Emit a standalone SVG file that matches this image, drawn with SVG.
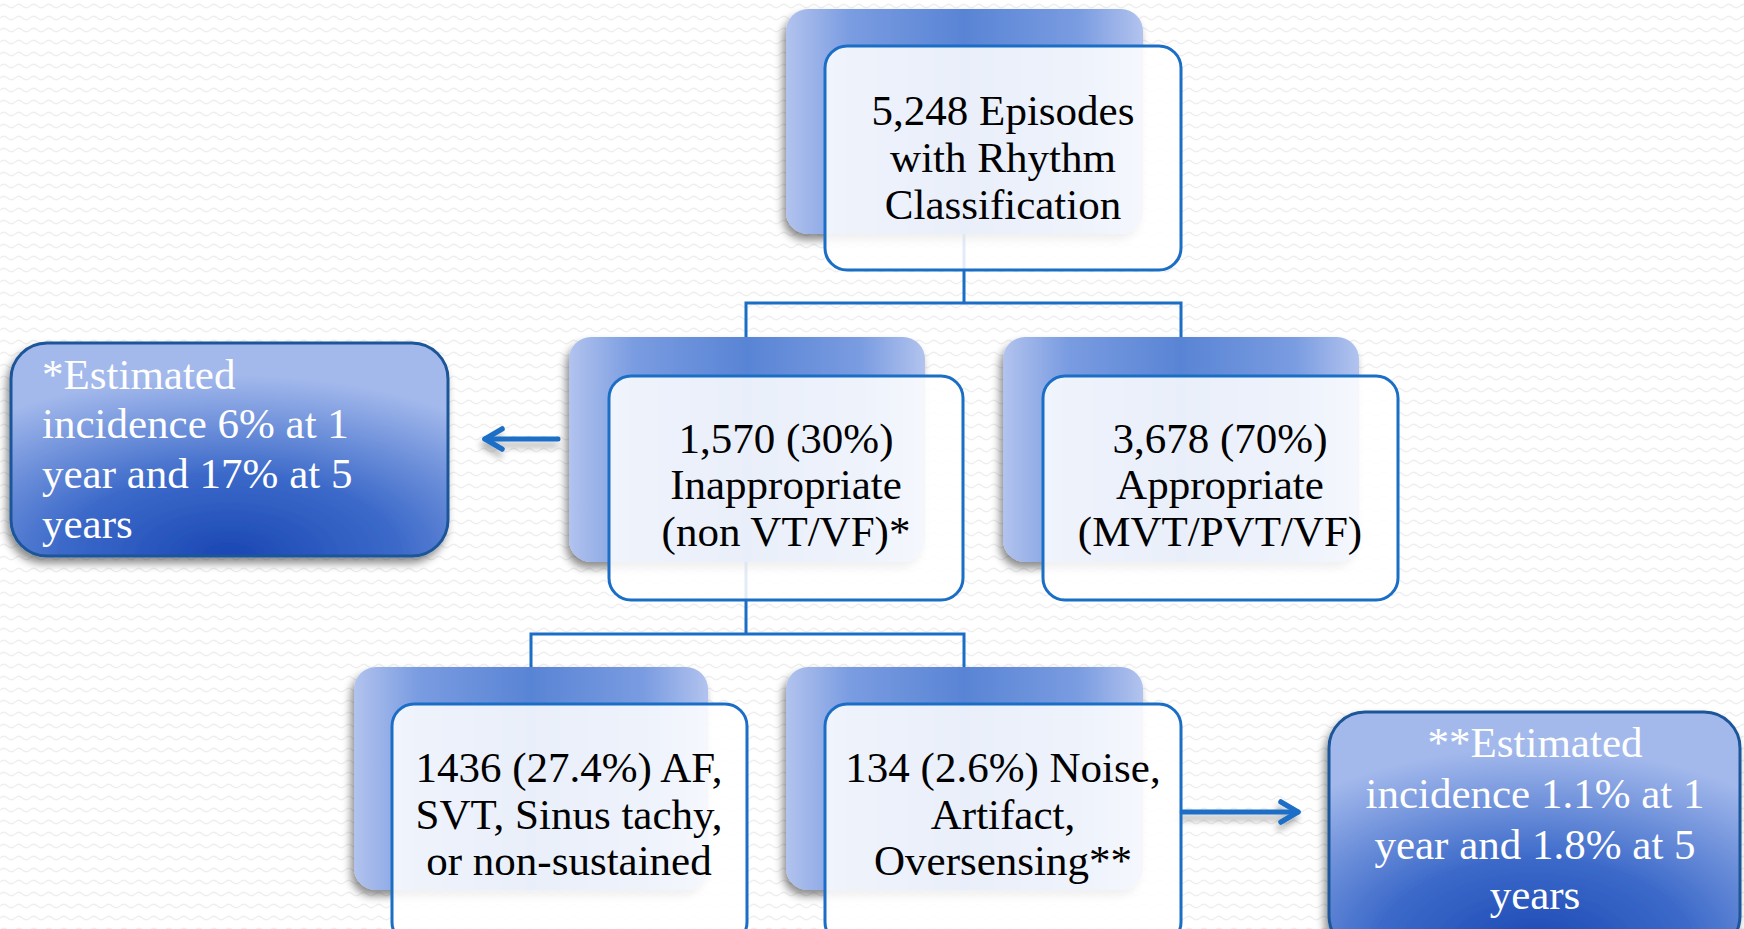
<svg xmlns="http://www.w3.org/2000/svg" width="1744" height="929" viewBox="0 0 1744 929">
  <defs>
    <pattern id="bgwave" width="15" height="12" patternUnits="userSpaceOnUse">
      <path d="M0 6 Q3.75 2.5 7.5 6 T15 6" fill="none" stroke="#eeeeee" stroke-width="1.2"/>
    </pattern>
    <linearGradient id="backGrad" x1="0" y1="0" x2="1" y2="0">
      <stop offset="0" stop-color="#b2c3ee"/>
      <stop offset="0.18" stop-color="#7a9ce1"/>
      <stop offset="0.5" stop-color="#5984d5"/>
      <stop offset="0.82" stop-color="#7a9ce1"/>
      <stop offset="1" stop-color="#b2c3ee"/>
    </linearGradient>
    <radialGradient id="noteGrad" cx="0.5" cy="1" r="0.85" fx="0.5" fy="1">
      <stop offset="0" stop-color="#1a47b3"/>
      <stop offset="0.45" stop-color="#3b69c9"/>
      <stop offset="1" stop-color="#a3b9ec"/>
    </radialGradient>
    <filter id="shadow" x="-10%" y="-10%" width="120%" height="130%">
      <feDropShadow dx="-3" dy="6" stdDeviation="4" flood-color="#000" flood-opacity="0.45"/>
    </filter>
    <filter id="ashadow" filterUnits="userSpaceOnUse" x="0" y="0" width="1744" height="929">
      <feDropShadow dx="-2" dy="6" stdDeviation="3" flood-color="#000" flood-opacity="0.3"/>
    </filter>
    <marker id="head" viewBox="0 0 24 26" refX="21" refY="13" markerWidth="24" markerHeight="26" markerUnits="userSpaceOnUse" orient="auto">
      <path d="M4 3 L21 13 L4 23" fill="none" stroke="#1b6ec6" stroke-width="5.5" stroke-linecap="round" stroke-linejoin="round"/>
    </marker>
    <style>
      .back { fill: url(#backGrad); filter: url(#shadow); }
      .front { fill: #ffffff; fill-opacity: 0.87; stroke: #1b6ec6; stroke-width: 3; }
      .note { fill: url(#noteGrad); stroke: #1b5699; stroke-width: 3; filter: url(#shadow); }
      .conn { fill: none; stroke: #1b6ec6; stroke-width: 3; }
      .arrow { fill: none; stroke: #1b6ec6; stroke-width: 5; stroke-linecap: round; marker-end: url(#head); }
      .t { font-family: "Liberation Serif", "Times New Roman", serif; font-size: 43px; fill: #000; text-anchor: middle; }
      .nt { font-family: "Liberation Serif", "Times New Roman", serif; font-size: 43px; fill: #ffffff; }
    </style>
  </defs>

  <rect x="0" y="0" width="1744" height="929" fill="#ffffff"/>
  <rect x="0" y="0" width="1744" height="929" fill="url(#bgwave)"/>

  <g id="connectors">
    <path class="conn" d="M964 234 V303 H746 V337 M964 303 H1181 V337"/>
    <path class="conn" d="M746 562 V634 H531 V667 M746 634 H964 V667"/>
    <g filter="url(#ashadow)">
      <path class="arrow" d="M558 439 H485"/>
      <path class="arrow" d="M1181 812 H1298"/>
    </g>
  </g>

  <g id="node-root">
    <rect class="back" x="786" y="9" width="357" height="225" rx="22"/>
    <rect class="front" x="825" y="46" width="356" height="224" rx="22"/>
    <text class="t" x="1003" y="125">5,248 Episodes</text>
    <text class="t" x="1003" y="172">with Rhythm</text>
    <text class="t" x="1003" y="219">Classification</text>
  </g>

  <g id="node-inappropriate">
    <rect class="back" x="569" y="337" width="356" height="225" rx="22"/>
    <rect class="front" x="609" y="376" width="354" height="224" rx="22"/>
    <text class="t" x="786" y="453">1,570 (30%)</text>
    <text class="t" x="786" y="499">Inappropriate</text>
    <text class="t" x="786" y="546">(non VT/VF)*</text>
  </g>

  <g id="node-appropriate">
    <rect class="back" x="1003" y="337" width="356" height="225" rx="22"/>
    <rect class="front" x="1043" y="376" width="355" height="224" rx="22"/>
    <text class="t" x="1220" y="453">3,678 (70%)</text>
    <text class="t" x="1220" y="499">Appropriate</text>
    <text class="t" x="1220" y="546">(MVT/PVT/VF)</text>
  </g>

  <g id="node-af">
    <rect class="back" x="354" y="667" width="354" height="223" rx="22"/>
    <rect class="front" x="392" y="704" width="355" height="240" rx="22"/>
    <text class="t" x="569" y="782">1436 (27.4%) AF,</text>
    <text class="t" x="569" y="829">SVT, Sinus tachy,</text>
    <text class="t" x="569" y="875">or non-sustained</text>
  </g>

  <g id="node-noise">
    <rect class="back" x="786" y="667" width="357" height="223" rx="22"/>
    <rect class="front" x="825" y="704" width="356" height="240" rx="22"/>
    <text class="t" x="1003" y="782">134 (2.6%) Noise,</text>
    <text class="t" x="1003" y="829">Artifact,</text>
    <text class="t" x="1003" y="875">Oversensing**</text>
  </g>

  <g id="note-inappropriate">
    <rect class="note" x="11" y="343" width="437" height="213" rx="36"/>
    <text class="nt" x="42" y="389">*Estimated</text>
    <text class="nt" x="42" y="438">incidence 6% at 1</text>
    <text class="nt" x="42" y="488">year and 17% at 5</text>
    <text class="nt" x="42" y="538">years</text>
  </g>

  <g id="note-noise">
    <rect class="note" x="1329" y="712" width="411" height="240" rx="36"/>
    <text class="nt" x="1535" y="757" text-anchor="middle">**Estimated</text>
    <text class="nt" x="1535" y="808" text-anchor="middle">incidence 1.1% at 1</text>
    <text class="nt" x="1535" y="859" text-anchor="middle">year and 1.8% at 5</text>
    <text class="nt" x="1535" y="909" text-anchor="middle">years</text>
  </g>
</svg>
